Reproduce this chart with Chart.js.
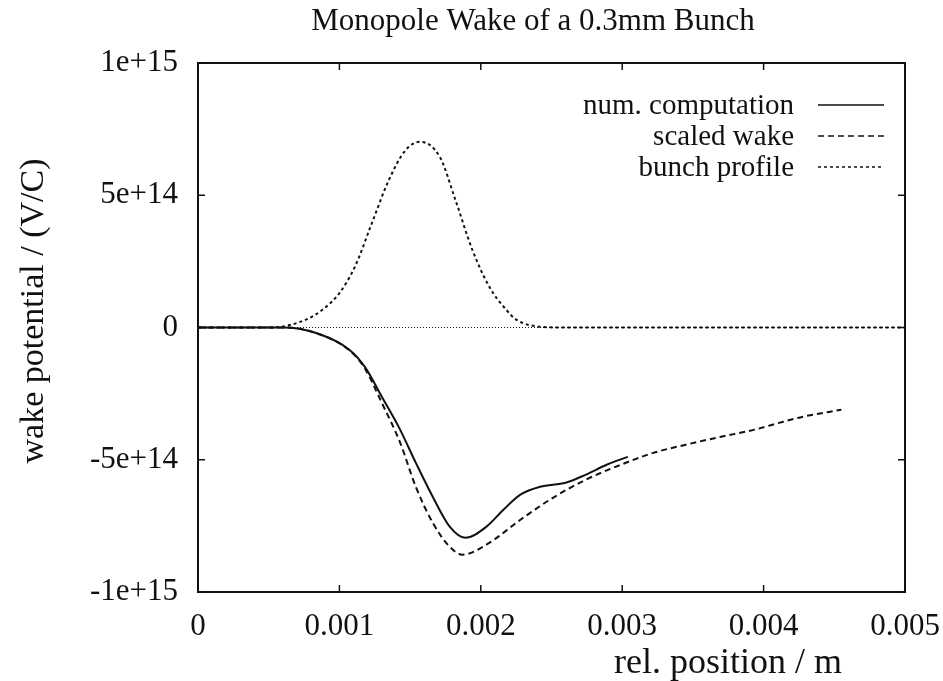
<!DOCTYPE html>
<html>
<head>
<meta charset="utf-8">
<script src="https://cdn.jsdelivr.net/npm/chart.js@4.4.1/dist/chart.umd.min.js"></script>
<style>
html,body{margin:0;padding:0;background:#fff;}
#wrap{width:943px;height:681px;position:relative;}
</style>
</head>
<body>
<div id="wrap"><canvas id="c" width="943" height="681"></canvas></div>
<script>
// ---- data ----
const titleText = "Monopole Wake of a 0.3mm Bunch";
const xAxisTitle = "rel. position / m";
const yAxisTitle = "wake potential / (V/C)";
const seriesNames = ["num. computation", "scaled wake", "bunch profile"];

const xTicks = [0, 0.001, 0.002, 0.003, 0.004, 0.005];
const yTicks = [-1e15, -5e14, 0, 5e14, 1e15];

const numX = [0, 0.0003, 0.0006, 0.00083, 0.00107, 0.00118, 0.0013, 0.00143, 0.00154, 0.00166, 0.00178, 0.00189, 0.00204, 0.00216, 0.00228, 0.00242, 0.0026, 0.00274, 0.00289, 0.00304];
const numY = [0, 0, 0, -0.2e14, -0.84e14, -1.49e14, -2.62e14, -3.87e14, -5.11e14, -6.4e14, -7.53e14, -7.95e14, -7.53e14, -6.89e14, -6.32e14, -6.02e14, -5.87e14, -5.57e14, -5.19e14, -4.89e14];

const wakeX = [0, 0.0003, 0.0006, 0.00083, 0.00107, 0.00118, 0.0013, 0.00143, 0.00154, 0.00166, 0.00178, 0.00187, 0.00204, 0.00228, 0.00251, 0.00274, 0.00299, 0.00322, 0.00345, 0.0037, 0.00393, 0.00414, 0.00428, 0.00455];
const wakeY = [0, 0, 0, -0.2e14, -0.86e14, -1.55e14, -2.85e14, -4.36e14, -6.02e14, -7.38e14, -8.29e14, -8.59e14, -8.21e14, -7.27e14, -6.44e14, -5.76e14, -5.19e14, -4.74e14, -4.43e14, -4.13e14, -3.87e14, -3.56e14, -3.37e14, -3.11e14];

const bunchX = [0, 0.0003, 0.00052, 0.00076, 0.00088, 0.001, 0.00111, 0.00123, 0.00135, 0.00147, 0.00157, 0.00171, 0.00182, 0.00194, 0.00206, 0.00218, 0.00225, 0.00242, 0.0026, 0.005];
const bunchY = [0, 0, 0, 0.29e14, 0.67e14, 1.3e14, 2.3e14, 3.95e14, 5.58e14, 6.72e14, 7.02e14, 6.45e14, 4.83e14, 2.94e14, 1.54e14, 0.67e14, 0.3e14, 0.03e14, 0, 0];

const zeroX = [0, 0.005];
const zeroY = [0, 0];
// ----------------------------------------

const pts = (xs, ys) => xs.map((x, i) => ({x: x, y: ys[i]}));
const FONT = "'Liberation Serif', 'Times New Roman', serif";
const INK = '#111';

const styles = [
  {borderDash: [], w: 1.5},
  {borderDash: [6, 4], w: 1.5},
  {borderDash: [3, 3], w: 1.5}
];

const framePlugin = {
  id: 'frame',
  afterDatasetsDraw(chart) {
    const ctx = chart.ctx, a = chart.chartArea;
    const xs = chart.scales.x, ys = chart.scales.y;
    ctx.save();
    ctx.strokeStyle = INK;
    ctx.lineWidth = 2;
    ctx.setLineDash([]);
    ctx.strokeRect(a.left, a.top, a.right - a.left, a.bottom - a.top);
    ctx.lineWidth = 1.5;
    const tl = 7;
    xTicks.forEach(v => {
      const p = xs.getPixelForValue(v);
      ctx.beginPath();
      ctx.moveTo(p, a.bottom); ctx.lineTo(p, a.bottom - tl);
      ctx.moveTo(p, a.top); ctx.lineTo(p, a.top + tl);
      ctx.stroke();
    });
    yTicks.forEach(v => {
      const p = ys.getPixelForValue(v);
      ctx.beginPath();
      ctx.moveTo(a.left, p); ctx.lineTo(a.left + tl, p);
      ctx.moveTo(a.right, p); ctx.lineTo(a.right - tl, p);
      ctx.stroke();
    });
    ctx.fillStyle = INK;
    // title
    ctx.font = "31px " + FONT;
    ctx.textAlign = 'center';
    ctx.textBaseline = 'middle';
    ctx.fillText(titleText, 533, 22);
    // legend (gnuplot style: right-aligned text, sample at right)
    ctx.font = "29px " + FONT;
    ctx.textAlign = 'right';
    ctx.textBaseline = 'alphabetic';
    const baselines = [114, 145, 176];
    seriesNames.forEach((name, i) => {
      const b = baselines[i];
      ctx.fillText(name, 794, b);
      ctx.save();
      ctx.strokeStyle = INK;
      ctx.lineWidth = styles[i].w;
      ctx.setLineDash(styles[i].borderDash);
      ctx.beginPath();
      ctx.moveTo(818, b - 9); ctx.lineTo(884, b - 9);
      ctx.stroke();
      ctx.restore();
    });
    // x axis title
    ctx.font = "36px " + FONT;
    ctx.textAlign = 'right';
    ctx.fillText(xAxisTitle, 842, 673);
    // y axis title
    ctx.save();
    ctx.translate(34, 311);
    ctx.rotate(-Math.PI / 2);
    ctx.textAlign = 'center';
    ctx.textBaseline = 'middle';
    ctx.font = "34px " + FONT;
    ctx.fillText(yAxisTitle, 0, 0);
    ctx.restore();
    ctx.restore();
  }
};

new Chart(document.getElementById('c'), {
  type: 'scatter',
  data: {
    datasets: [
      {label: 'zero', data: pts(zeroX, zeroY), showLine: true, borderColor: INK, borderWidth: 1, borderDash: [1, 2], pointRadius: 0},
      {label: seriesNames[0], data: pts(numX, numY), showLine: true, borderColor: INK, borderWidth: 2, pointRadius: 0, cubicInterpolationMode: 'monotone'},
      {label: seriesNames[1], data: pts(wakeX, wakeY), showLine: true, borderColor: INK, borderWidth: 2, borderDash: [6, 4], pointRadius: 0, cubicInterpolationMode: 'monotone'},
      {label: seriesNames[2], data: pts(bunchX, bunchY), showLine: true, borderColor: INK, borderWidth: 2, borderDash: [3, 3], pointRadius: 0, cubicInterpolationMode: 'monotone'}
    ]
  },
  options: {
    responsive: false,
    animation: false,
    layout: {padding: {left: 0, right: 38, top: 63, bottom: 0}},
    plugins: {
      legend: {display: false},
      tooltip: {enabled: false},
      title: {display: false}
    },
    scales: {
      x: {
        type: 'linear',
        min: 0, max: 0.005,
        afterBuildTicks: s => { s.ticks = xTicks.map(v => ({value: v})); },
        afterFit: s => { s.height = 89; s.paddingLeft = 0; s.paddingRight = 0; },
        grid: {display: false, drawTicks: false},
        border: {display: false},
        ticks: {
          color: INK,
          font: {family: FONT, size: 31},
          padding: 16,
          maxRotation: 0,
          callback: v => String(Number(v.toFixed(3)))
        }
      },
      y: {
        type: 'linear',
        min: -1e15, max: 1e15,
        afterBuildTicks: s => { s.ticks = yTicks.map(v => ({value: v})); },
        afterFit: s => { s.width = 198; s.paddingTop = 0; s.paddingBottom = 0; },
        grid: {display: false, drawTicks: false},
        border: {display: false},
        ticks: {
          color: INK,
          font: {family: FONT, size: 31},
          padding: 20,
          callback: v => v === 0 ? '0' : v.toExponential()
        }
      }
    }
  },
  plugins: [framePlugin]
});
</script>
</body>
</html>
